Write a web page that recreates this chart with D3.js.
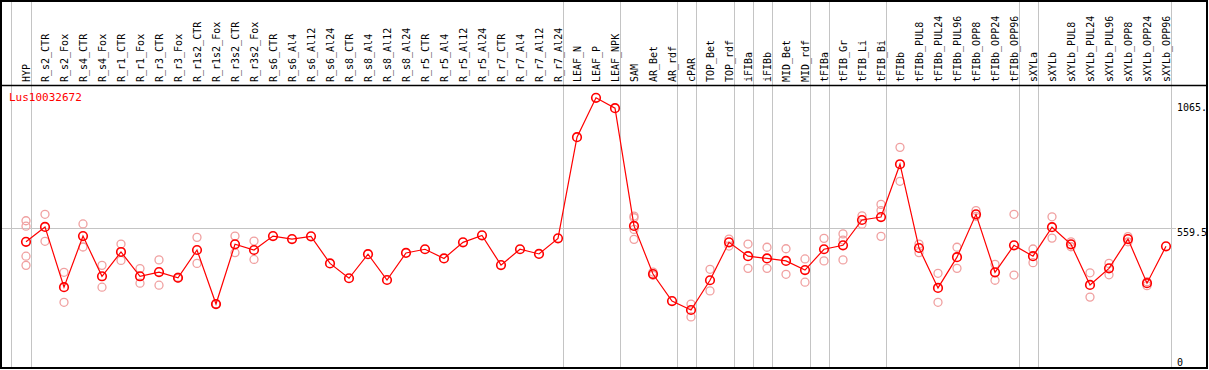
<!DOCTYPE html>
<html>
<head>
<meta charset="utf-8">
<script src="https://cdn.jsdelivr.net/npm/d3@7"></script>
<style>
  body { margin: 0; background: #fff; }
  svg text { font-family: "DejaVu Sans Mono", monospace; font-size: 10px; }
</style>
</head>
<body>
<svg id="chart" width="1209" height="370"></svg>
<script>
const geneName = 'Lus10032672'

const categories = [
  'HYP', 'R_s2_CTR', 'R_s2_Fox', 'R_s4_CTR', 'R_s4_Fox', 'R_r1_CTR', 'R_r1_Fox', 'R_r3_CTR', 'R_r3_Fox',
  'R_r1s2_CTR', 'R_r1s2_Fox', 'R_r3s2_CTR', 'R_r3s2_Fox', 'R_s6_CTR', 'R_s6_Al4', 'R_s6_Al12', 'R_s6_Al24',
  'R_s8_CTR', 'R_s8_Al4', 'R_s8_Al12', 'R_s8_Al24', 'R_r5_CTR', 'R_r5_Al4', 'R_r5_Al12', 'R_r5_Al24',
  'R_r7_CTR', 'R_r7_Al4', 'R_r7_Al12', 'R_r7_Al24', 'LEAF_N', 'LEAF_P', 'LEAF_NPK', 'SAM', 'AR_Bet', 'AR_rdf',
  'cPAR', 'TOP_Bet', 'TOP_rdf', 'iFIBa', 'iFIBb', 'MID_Bet', 'MID_rdf', 'tFIBa', 'tFIB_Gr', 'tFIB_Li', 'tFIB_Bi',
  'tFIBb', 'tFIBb_PUL8', 'tFIBb_PUL24', 'tFIBb_PUL96', 'tFIBb_OPP8', 'tFIBb_OPP24', 'tFIBb_OPP96',
  'sXYLa', 'sXYLb', 'sXYLb_PUL8', 'sXYLb_PUL24', 'sXYLb_PUL96', 'sXYLb_OPP8', 'sXYLb_OPP24', 'sXYLb_OPP96'
]

// mean expression per sample
const meanValues = [
  505, 565, 322, 528, 366, 464, 366, 383, 360,
  472, 254, 495, 472, 528, 516, 527, 418,
  358, 455, 351, 460, 475, 438, 503, 531,
  411, 475, 456, 519, 927, 1086, 1044, 569, 375, 266,
  230, 350, 503, 447, 438, 428, 391, 475, 491, 593, 605,
  818, 480, 319, 443, 616, 382, 491,
  447, 564, 495, 331, 398, 516, 338, 487
]

// individual replicates (empty where none visible)
const replicateValues = [
  [590, 568, 447, 410], [616, 507], [382, 261], [577, 484], [410, 322], [496, 430], [397, 338], [432, 330], [358, 362],
  [523, 418], [254, 254], [528, 461], [508, 434], [], [], [], [],
  [], [], [], [], [], [], [], [],
  [], [], [], [], [], [], [], [609, 602, 555, 515], [383, 370], [],
  [254, 202], [394, 307], [516, 488], [496, 398], [483, 398], [477, 374], [436, 342], [519, 428], [537, 512, 432], [610, 576], [656, 631, 527],
  [886, 749], [496, 461], [378, 261], [483, 398], [631, 608], [414, 350], [616, 371],
  [476, 421], [606, 520], [505, 485], [380, 282], [418, 372], [526, 505], [344, 328], []
]

// a gray separator follows each of these samples
const groupEnds = ['HYP', 'R_r7_Al24', 'LEAF_NPK', 'AR_rdf', 'cPAR', 'TOP_rdf', 'iFIBa', 'iFIBb',
  'MID_rdf', 'tFIBa', 'tFIB_Bi', 'tFIBb_OPP96', 'sXYLa', 'sXYLb_OPP96']

const yTicks = [
  { value: 1065, label: '1065.' },
  { value: 559.5, label: '559.5' },
  { value: 0, label: '0' }
]

const W = 1209, H = 370
const headerBottom = 85
const frameBottom = 368

const svg = d3.select('#chart')

var x = d3.scalePoint()
  .domain(categories)
  .range([26, 1166])

var y = d3.scaleLinear()
  .domain([0, 1065])
  .range([367, 103])

// gray separators
const sepX = [x(categories[0]) - 15.5].concat(groupEnds.map(c => x(c) + 4.5))
svg.append('g')
  .selectAll('line')
  .data(sepX)
  .join('line')
  .attr('x1', d => Math.round(d) + 0.5)
  .attr('x2', d => Math.round(d) + 0.5)
  .attr('y1', 0)
  .attr('y2', frameBottom)
  .attr('stroke', '#c4c4c4')
  .attr('stroke-width', 1)

// reference line at 559.5
svg.append('line')
  .attr('x1', 2)
  .attr('x2', 1176)
  .attr('y1', Math.round(y(559.5)) + 0.5)
  .attr('y2', Math.round(y(559.5)) + 0.5)
  .attr('stroke', '#c4c4c4')
  .attr('stroke-width', 1)

// frame
svg.append('rect')
  .attr('x', 1).attr('y', 1)
  .attr('width', W - 3).attr('height', frameBottom - 1)
  .attr('fill', 'none')
  .attr('stroke', '#000')
  .attr('stroke-width', 2)

svg.append('line')
  .attr('x1', 1).attr('x2', W - 2)
  .attr('y1', headerBottom + 0.5).attr('y2', headerBottom + 0.5)
  .attr('stroke', '#000')
  .attr('stroke-width', 1.5)

// sample labels
svg.append('g')
  .selectAll('text')
  .data(categories)
  .join('text')
  .attr('transform', d => `translate(${x(d)},82) rotate(-90)`)
  .attr('dy', '0.35em')
  .attr('fill', '#000')
  .text(d => d)

// gene name
svg.append('text')
  .attr('x', 9)
  .attr('y', 101)
  .attr('fill', '#ff0000')
  .style('font-size', '11px')
  .text(geneName)

// right axis labels
svg.append('g')
  .selectAll('text')
  .data(yTicks)
  .join('text')
  .attr('x', 1177)
  .attr('y', d => d.value === 0 ? y(d.value) - 1 : y(d.value) + 8)
  .attr('fill', '#000')
  .text(d => d.label)

// replicates
const reps = []
replicateValues.forEach((arr, i) => {
  arr.forEach(v => reps.push({ cat: categories[i], value: v }))
})

svg.append('g')
  .selectAll('circle')
  .data(reps)
  .join('circle')
  .attr('cx', d => x(d.cat))
  .attr('cy', d => y(d.value))
  .attr('r', 4)
  .attr('fill', 'none')
  .attr('stroke', '#f0a0a0')
  .attr('stroke-width', 1.3)

// mean line
const means = categories.map((c, i) => ({ cat: c, value: meanValues[i] }))

svg.append('path')
  .datum(means)
  .attr('fill', 'none')
  .attr('stroke', '#ff0000')
  .attr('stroke-width', 1.2)
  .attr('d', d3.line()
    .x(d => x(d.cat))
    .y(d => y(d.value))
  )

svg.append('g')
  .selectAll('circle')
  .data(means)
  .join('circle')
  .attr('cx', d => x(d.cat))
  .attr('cy', d => y(d.value))
  .attr('r', 4.3)
  .attr('fill', 'none')
  .attr('stroke', '#ff0000')
  .attr('stroke-width', 1.6)
</script>
</body>
</html>
